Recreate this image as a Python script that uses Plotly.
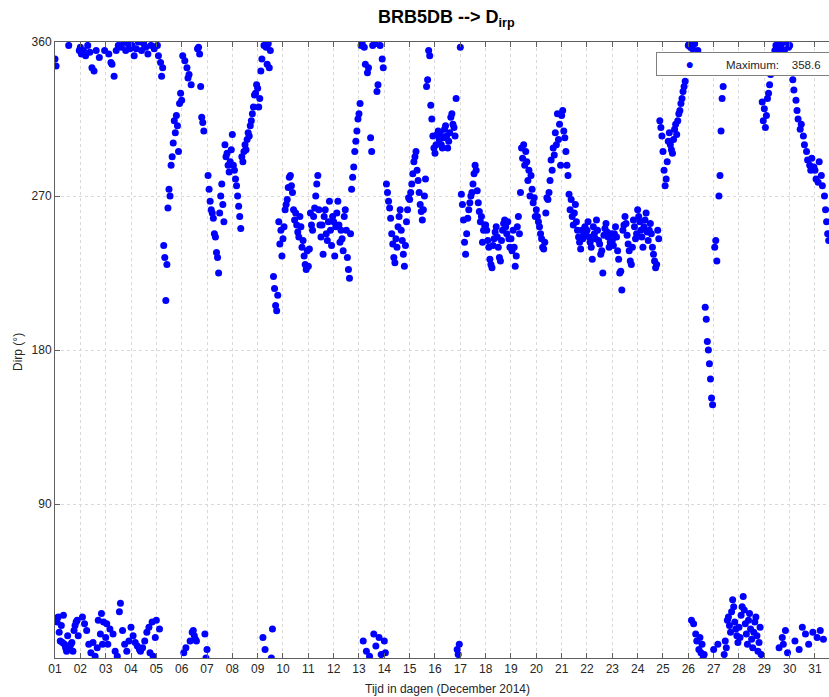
import plotly.graph_objects as go

# Hourly wind direction readings (degrees), one list per day of December 2014
d01 = [350, 346, 21, 24, 15, 10, 19, 9, 25, 8, 6, 4, 13, 358, 6, 8, 9, 4, 16, 19, 21, 22, 13, 355]
d02 = [357, 353, 24, 355, 20, 352, 16, 358, 8, 354, 3, 345, 9, 343, 1, 355, 6, 22, 351, 14, 26, 8, 21, 355]
d03 = [12, 20, 8, 353, 17, 348, 347, 14, 340, 4, 355, 1, 358, 27, 32, 357, 16, 360, 8, 355, 4, 359, 10, 356]
d04 = [18, 358, 13, 352, 9, 356, 7, 360, 5, 4, 355, 6, 359, 10, 357, 15, 353, 18, 3, 358, 21, 1, 356, 12]
d05 = [22, 358, 352, 17, 348, 340, 345, 241, 234, 209, 230, 263, 274, 270, 288, 293, 301, 314, 307, 317, 311, 296, 324, 330]
d06 = [326, 352, 3, 349, 6, 345, 339, 341, 10, 335, 15, 16, 13, 11, 10, 356, 357, 353, 334, 316, 313, 308, 14, 0]
d07 = [5, 282, 274, 267, 262, 260, 257, 248, 246, 237, 234, 225, 260, 270, 277, 265, 255, 300, 293, 295, 288, 284, 290, 297]
d08 = [306, 288, 285, 280, 276, 270, 264, 258, 251, 293, 290, 296, 300, 297, 303, 307, 305, 311, 314, 318, 322, 329, 330, 335]
d09 = [333, 322, 327, 343, 350, 12, 358, 5, 357, 347, 359, 345, 355, 0, 17, 223, 216, 206, 203, 212, 255, 242, 250, 235]
d10 = [245, 252, 262, 265, 268, 275, 281, 282, 276, 272, 262, 256, 260, 253, 249, 246, 258, 252, 240, 244, 235, 230, 227, 238]
d11 = [229, 239, 260, 253, 250, 258, 263, 270, 277, 282, 262, 253, 246, 253, 236, 258, 262, 248, 244, 255, 267, 250, 241, 258]
d12 = [255, 235, 252, 260, 267, 253, 243, 250, 245, 238, 258, 262, 250, 234, 227, 222, 248, 274, 281, 287, 296, 302, 308, 315]
d13 = [318, 324, 358, 359, 10, 357, 347, 4, 342, 345, 1, 304, 296, 358, 14, 359, 7, 331, 335, 12, 358, 2, 350, 345]
d14 = [10, 3, 277, 272, 267, 263, 257, 248, 242, 234, 231, 245, 240, 252, 258, 262, 250, 244, 236, 229, 241, 255, 262, 269]
d15 = [268, 272, 277, 283, 290, 293, 296, 285, 279, 272, 265, 261, 256, 262, 270, 280, 334, 338, 355, 352, 323, 315, 305, 298]
d16 = [295, 300, 306, 308, 303, 307, 300, 298, 304, 309, 311, 305, 298, 302, 307, 316, 318, 312, 310, 305, 327, 5, 2, 8]
d17 = [357, 271, 265, 256, 243, 236, 248, 257, 262, 266, 270, 272, 277, 283, 288, 285, 273, 266, 261, 255, 258, 243, 250, 253]
d18 = [253, 250, 244, 240, 233, 230, 228, 241, 245, 249, 252, 246, 240, 234, 232, 244, 250, 254, 256, 252, 248, 255, 245, 240]
d19 = [245, 238, 250, 240, 229, 235, 252, 258, 248, 272, 298, 292, 300, 288, 296, 290, 279, 285, 270, 282, 274, 266, 269, 258]
d20 = [262, 258, 255, 252, 248, 245, 240, 239, 243, 260, 269, 268, 272, 279, 291, 285, 298, 294, 307, 300, 318, 303, 312, 288]
d21 = [317, 320, 308, 304, 296, 288, 282, 271, 262, 268, 258, 253, 260, 265, 255, 250, 246, 243, 239, 250, 245, 248, 252, 247]
d22 = [250, 255, 246, 243, 240, 233, 252, 248, 245, 256, 250, 244, 242, 236, 238, 225, 247, 251, 254, 249, 246, 240, 243, 248]
d23 = [244, 241, 248, 252, 246, 238, 233, 225, 226, 215, 250, 253, 258, 254, 247, 242, 238, 232, 230, 240, 256, 252, 245, 248]
d24 = [262, 258, 255, 250, 246, 240, 252, 256, 260, 249, 244, 250, 254, 248, 240, 236, 232, 228, 230, 250, 245, 314, 310, 305]
d25 = [296, 285, 276, 280, 290, 302, 307, 300, 297, 295, 303, 309, 312, 306, 314, 318, 320, 324, 327, 331, 334, 337, 345, 352]
d26 = [358, 359, 357, 22, 356, 20, 359, 14, 10, 355, 5, 12, 3, 8, 0, 2, 205, 198, 185, 180, 172, 163, 152, 148]
d27 = [5, 240, 244, 232, 8, 270, 282, 308, 327, 334, 2, 10, 6, 22, 24, 19, 15, 27, 34, 30, 21, 17, 13, 9]
d28 = [18, 12, 25, 30, 36, 28, 20, 14, 8, 22, 26, 17, 11, 6, 15, 21, 24, 13, 4, 9, 18, 2, 325, 314]
d29 = [321, 310, 317, 327, 330, 335, 341, 345, 348, 352, 355, 358, 357, 359, 6, 356, 358, 12, 8, 355, 16, 360, 3, 357]
d30 = [358, 349, 343, 338, 332, 10, 326, 320, 315, 5, 309, 312, 18, 305, 300, 14, 296, 291, 8, 288, 285, 292, 15, 287]
d31 = [285, 280, 12, 278, 290, 16, 282, 276, 11, 270, 262, 255, 248, 244]

days = [d01, d02, d03, d04, d05, d06, d07, d08, d09, d10, d11, d12, d13, d14, d15, d16,
        d17, d18, d19, d20, d21, d22, d23, d24, d25, d26, d27, d28, d29, d30, d31]

tick_days = list(range(1, 32))
tick_labels = [f"{d:02d}" for d in tick_days]
y_ticks = [90, 180, 270, 360]
max_label = "358.6"

x, y = [], []
for i, vals in enumerate(days):
    for h, v in enumerate(vals):
        x.append(i + 1 + h / 24)
        y.append(v)

W, H = 829, 697
L, R, T, B = 55, 0, 42, 39
pw, ph = W - L - R, H - T - B

axis_col = "#5f5f5f"
font_fam = "Liberation Sans, Arial, sans-serif"


def px_x(p):
    return (p - L) / pw


def px_y(p):  # p measured from the top of the page
    return (H - p - B) / ph


fig = go.Figure()
fig.add_trace(go.Scatter(
    x=x, y=y, mode="markers",
    marker=dict(color="#0000ff", size=7, line=dict(width=0)),
    name="Maximum: " + max_label,
    showlegend=False,
))

sp = "&nbsp;"
legend_text = (sp * 8 + "<span style='color:#0000ff;font-size:14px'>●</span>" + sp * 10 +
               "Maximum:" + sp * 4 + max_label + sp * 3)

fig.update_layout(
    width=W, height=H,
    margin=dict(l=L, r=R, t=T, b=B, autoexpand=False),
    paper_bgcolor="white", plot_bgcolor="white",
    font=dict(family=font_fam, size=12, color="#262626"),
    showlegend=False,
    xaxis=dict(
        range=[1, 1 + (W - 56) / 25.3],
        tickvals=tick_days, ticktext=tick_labels,
        ticks="inside", ticklen=5, tickcolor=axis_col,
        showline=True, linecolor=axis_col, linewidth=1, mirror="ticks",
        showgrid=True, gridcolor="#d9d9d9", griddash="dot", gridwidth=1,
        zeroline=False, tickfont=dict(size=12, color="#262626"),
    ),
    yaxis=dict(
        range=[0, 360],
        tickvals=y_ticks,
        ticks="inside", ticklen=5, tickcolor=axis_col,
        showline=True, linecolor=axis_col, linewidth=1, mirror=False,
        showgrid=True, gridcolor="#d9d9d9", griddash="dot", gridwidth=1,
        zeroline=False, tickfont=dict(size=12, color="#262626"),
    ),
    annotations=[
        dict(text="<b>BRB5DB --> D<sub>irp</sub></b>", x=px_x(446), y=px_y(19),
             xref="paper", yref="paper", xanchor="center", yanchor="middle",
             showarrow=False, font=dict(size=18, color="#000000")),
        dict(text="Tijd in dagen (December 2014)", x=px_x(447), y=px_y(689),
             xref="paper", yref="paper", xanchor="center", yanchor="middle",
             showarrow=False, font=dict(size=12, color="#262626")),
        dict(text="Dirp (°)", x=px_x(18), y=px_y(352), textangle=-90,
             xref="paper", yref="paper", xanchor="center", yanchor="middle",
             showarrow=False, font=dict(size=12, color="#262626")),
        dict(text=legend_text, x=px_x(656), y=px_y(52),
             xref="paper", yref="paper", xanchor="left", yanchor="top",
             align="left", showarrow=False,
             bordercolor="#7f7f7f", borderwidth=1, borderpad=3, bgcolor="white",
             font=dict(size=11.5, color="#262626")),
    ],
)

fig.write_html("out.html")
